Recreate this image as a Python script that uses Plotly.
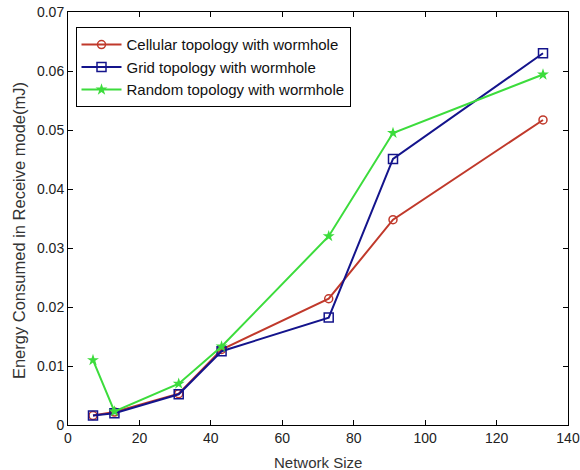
import plotly.graph_objects as go

network_size = [7, 13, 31, 43, 73, 91, 133]
cellular = [0.0016, 0.0022, 0.0053, 0.0128, 0.0214, 0.0348, 0.0517]
grid = [0.0016, 0.0020, 0.0052, 0.0125, 0.0182, 0.0451, 0.0630]
random_topo = [0.0110, 0.0023, 0.0070, 0.0133, 0.0320, 0.0495, 0.0594]

x_ticks = [0, 20, 40, 60, 80, 100, 120, 140]
y_ticks = [0, 0.01, 0.02, 0.03, 0.04, 0.05, 0.06, 0.07]
y_tick_text = ["0", "0.01", "0.02", "0.03", "0.04", "0.05", "0.06", "0.07"]
x_title = "Network Size"
y_title = "Energy Consumed in Receive mode(mJ)"

fig = go.Figure()
fig.add_trace(go.Scatter(x=network_size, y=cellular, mode="lines+markers",
                         name="Cellular topology with wormhole",
                         line=dict(color="#c0392b", width=2),
                         marker=dict(symbol="circle-open", size=8, color="#c0392b", line=dict(width=1.5))))
fig.add_trace(go.Scatter(x=network_size, y=grid, mode="lines+markers",
                         name="Grid topology with wormhole",
                         line=dict(color="#14148c", width=2),
                         marker=dict(symbol="square-open", size=9, color="#14148c", line=dict(width=1.5))))
fig.add_trace(go.Scatter(x=network_size, y=random_topo, mode="lines+markers",
                         name="Random topology with wormhole",
                         line=dict(color="#3cdc3c", width=2),
                         marker=dict(symbol="star", size=9, color="#3cdc3c")))

axis_common = dict(showline=True, linecolor="black", linewidth=1, mirror="allticks",
                   ticks="inside", ticklen=5, tickcolor="black", showgrid=False, zeroline=False,
                   automargin=False,
                   tickfont=dict(family="Liberation Sans, Arial", size=14, color="#222"))

fig.update_layout(
    width=580, height=470,
    margin=dict(l=68, r=12, t=12, b=45),
    paper_bgcolor="white", plot_bgcolor="white",
    font=dict(family="Liberation Sans, Arial", size=14, color="#222"),
    xaxis=dict(range=[0, 140], tickvals=x_ticks, **axis_common),
    yaxis=dict(range=[0, 0.07], tickvals=y_ticks, ticktext=y_tick_text, **axis_common),
    legend=dict(x=0.015, y=0.963, xanchor="left", yanchor="top",
                bgcolor="white", bordercolor="black", borderwidth=1,
                font=dict(family="Liberation Sans, Arial", size=15, color="#111"),
                tracegroupgap=0, itemwidth=40),
    showlegend=True,
    annotations=[
        dict(text=x_title, xref="paper", yref="paper", x=0.5, y=-0.0896,
             xanchor="center", yanchor="middle", showarrow=False,
             font=dict(family="Liberation Sans, Arial", size=15, color="#333")),
        dict(text=y_title, xref="paper", yref="paper", x=-0.0976, y=0.47,
             xanchor="center", yanchor="middle", textangle=-90, showarrow=False,
             font=dict(family="Liberation Sans, Arial", size=16.5, color="#333")),
    ],
)

fig.write_html("out.html")
